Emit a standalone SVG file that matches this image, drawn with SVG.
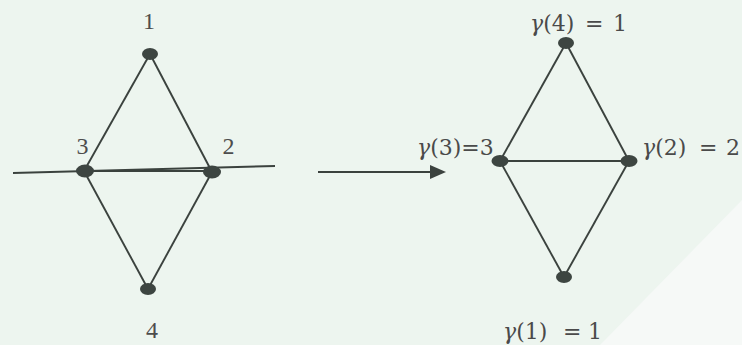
<svg xmlns="http://www.w3.org/2000/svg" width="742" height="345" viewBox="0 0 742 345">
<style>
.e{stroke:#3b423e;stroke-width:1.9;fill:none}
.n{fill:#3d4541}
.t{font-family:"Liberation Serif","Times New Roman",serif;font-size:24px;fill:#4d4d4d}
.m{font-family:"DejaVu Serif","Liberation Serif",serif;font-size:22px;fill:#4a4a4a}
.g{font-style:italic}
</style>
<rect width="742" height="345" fill="#edf5ef"/>
<path d="M600,345 L742,200 L742,345 Z" fill="#f6f9f7"/>
<g id="connectors">
<line class="e" x1="150" y1="54" x2="84" y2="171"/>
<line class="e" x1="150" y1="54" x2="212" y2="172"/>
<line class="e" x1="84" y1="171" x2="148" y2="289"/>
<line class="e" x1="212" y1="172" x2="148" y2="289"/>
<line class="e" x1="84" y1="171" x2="212" y2="171" style="stroke-width:2.2"/>
<line class="e" x1="13" y1="173" x2="275" y2="166"/>
<line x1="318" y1="172" x2="431" y2="172" stroke="#3b423e" stroke-width="2.2"/>
<path d="M430,165 L446,172 L430,179 Z" fill="#3b423e"/>
<line class="e" x1="566" y1="43" x2="500" y2="161"/>
<line class="e" x1="566" y1="43" x2="629" y2="161"/>
<line class="e" x1="500" y1="161" x2="629" y2="161"/>
<line class="e" x1="500" y1="161" x2="564" y2="277"/>
<line class="e" x1="629" y1="161" x2="564" y2="277"/>
</g>
<g id="n1"><ellipse class="n" cx="150" cy="54" rx="8" ry="6"/><text class="t" x="149" y="29" text-anchor="middle">1</text></g>
<g id="n3"><ellipse class="n" cx="85" cy="171" rx="9" ry="6.5"/><text class="t" x="82.5" y="154" text-anchor="middle">3</text></g>
<g id="n2"><ellipse class="n" cx="212" cy="172" rx="9" ry="6.5"/><text class="t" x="228.5" y="154" text-anchor="middle">2</text></g>
<g id="n4"><ellipse class="n" cx="148" cy="289" rx="8" ry="6"/><text class="t" x="152" y="338" text-anchor="middle">4</text></g>
<g id="m4"><ellipse class="n" cx="566" cy="43" rx="8" ry="6"/><text class="m" x="530" y="31"><tspan class="g">γ</tspan>(4)<tspan x="585">=</tspan><tspan x="613">1</tspan></text></g>
<g id="m3"><ellipse class="n" cx="500" cy="161" rx="8.5" ry="6"/><text class="m" x="417" y="155"><tspan class="g">γ</tspan>(3)=3</text></g>
<g id="m2"><ellipse class="n" cx="629" cy="161" rx="8.5" ry="6"/><text class="m" x="642" y="155"><tspan class="g">γ</tspan>(2)<tspan x="699">=</tspan><tspan x="726">2</tspan></text></g>
<g id="m1"><ellipse class="n" cx="564" cy="277" rx="8" ry="6"/><text class="m" x="503" y="339"><tspan class="g">γ</tspan>(1)<tspan x="563">=</tspan><tspan x="588">1</tspan></text></g>
</svg>
